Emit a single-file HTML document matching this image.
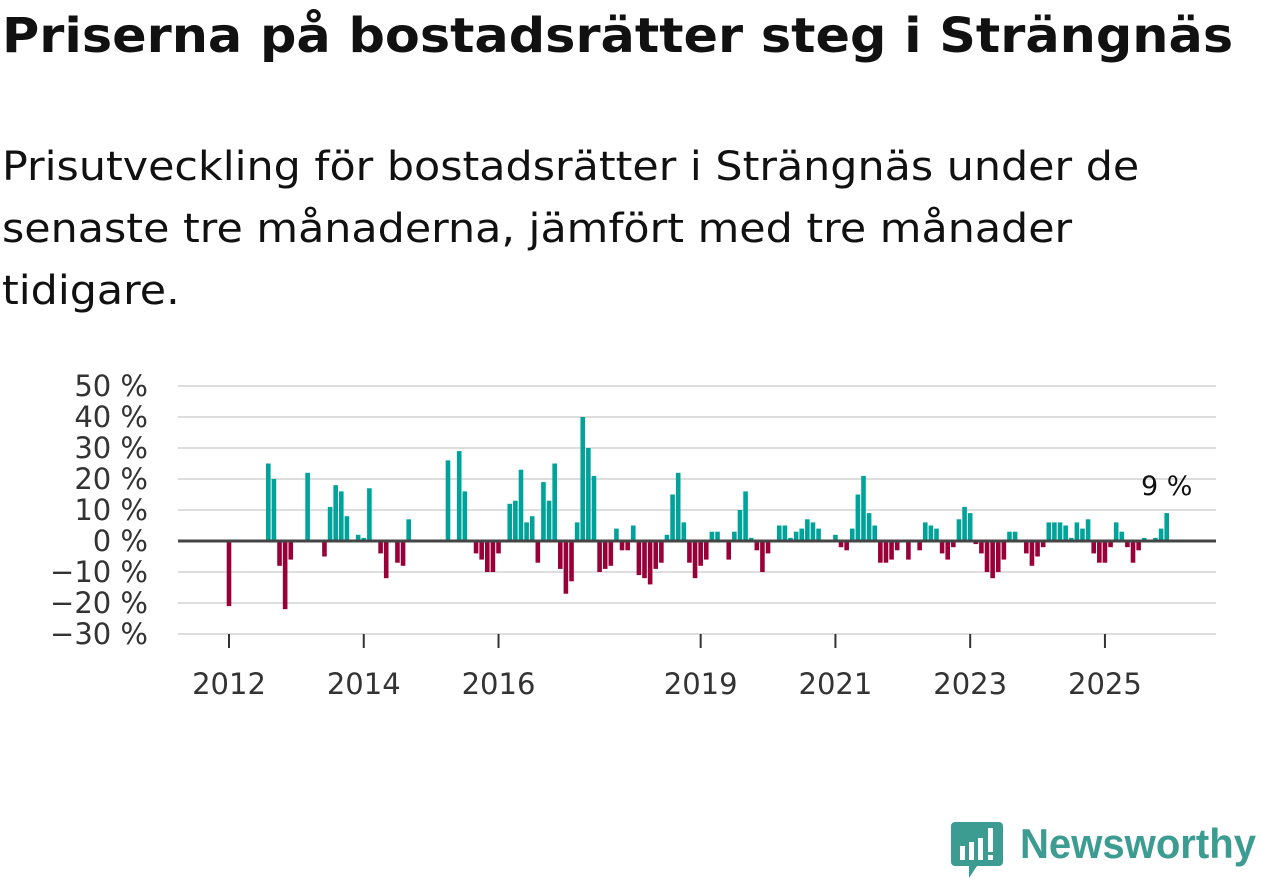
<!DOCTYPE html>
<html><head><meta charset="utf-8"><style>
body{margin:0;width:1262px;height:879px;background:#fff;font-family:"Liberation Sans","DejaVu Sans",sans-serif;color:#111;position:relative;overflow:hidden}
h1{position:absolute;left:2px;top:8px;margin:0;font-size:48px;font-weight:bold;white-space:nowrap;font-family:"DejaVu Sans","Liberation Sans",sans-serif;transform:scaleX(1.06);transform-origin:left}
#sub{position:absolute;left:2px;top:136px;margin:0;font-size:40px;line-height:62px;white-space:nowrap;font-family:"DejaVu Sans",sans-serif;transform:scaleX(1.07);transform-origin:left}
svg{position:absolute;left:0;top:0}
</style></head><body>
<h1>Priserna på bostadsrätter steg i Strängnäs</h1>
<p id="sub">Prisutveckling för bostadsrätter i Strängnäs under de<br>senaste tre månaderna, jämfört med tre månader<br>tidigare.</p>
<svg id="chart" width="1262" height="879"></svg>
<script>
const months=[0,7,8,9,10,11,14,17,18,19,20,21,23,24,25,27,28,30,31,32,39,41,42,44,45,46,47,48,50,51,52,53,54,55,56,57,58,59,60,61,62,63,64,65,66,67,68,69,70,71,72,73,74,75,76,77,78,79,80,81,82,83,84,85,86,87,89,90,91,92,93,94,95,96,98,99,100,101,102,103,104,105,108,109,110,111,112,113,114,115,116,117,118,119,121,123,124,125,126,127,128,129,130,131,132,133,134,135,136,137,138,139,140,142,143,144,145,146,147,148,149,150,151,152,153,154,155,156,157,158,159,160,161,162,163,165,166,167];
const values=[-21,25,20,-8,-22,-6,22,-5,11,18,16,8,2,1,17,-4,-12,-7,-8,7,26,29,16,-4,-6,-10,-10,-4,12,13,23,6,8,-7,19,13,25,-9,-17,-13,6,40,30,21,-10,-9,-8,4,-3,-3,5,-11,-12,-14,-9,-7,2,15,22,6,-7,-12,-8,-6,3,3,-6,3,10,16,1,-3,-10,-4,5,5,1,3,4,7,6,4,2,-2,-3,4,15,21,9,5,-7,-7,-6,-3,-6,-3,6,5,4,-4,-6,-2,7,11,9,-1,-4,-10,-12,-10,-6,3,3,-4,-8,-5,-2,6,6,6,5,1,6,4,7,-4,-7,-7,-2,6,3,-2,-7,-3,1,1,4,9];
const yTicks=[50,40,30,20,10,0,-10,-20,-30];
const xYears=[2012,2014,2016,2019,2021,2023,2025];
const lastLabel="9 %";
const svg=document.getElementById('chart');
const NS='http://www.w3.org/2000/svg';
const y=v=>541-v*3.1;
const x=m=>229+m*5.615;
function mk(t,a){const e=document.createElementNS(NS,t);for(const k in a)e.setAttribute(k,a[k]);svg.appendChild(e);return e;}
yTicks.forEach(t=>{
  const l=mk('line',{x1:178,x2:1216,y1:y(t),y2:y(t),stroke:'#ddd','stroke-width':2});
  
  
  const tx=mk('text',{x:148,y:y(t)+10,'text-anchor':'end','font-size':29,fill:'#333','font-family':'DejaVu Sans, sans-serif'});
  tx.textContent=(t<0?'−'+(-t):t)+' %';
  
  
});
xYears.forEach(yr=>{
  const px=x((yr-2012)*12);
  const tk=mk('line',{x1:px,x2:px,y1:634,y2:648,stroke:'#333','stroke-width':2});
  
  
  const tx=mk('text',{x:px,y:694,'text-anchor':'middle','font-size':29,fill:'#333','font-family':'DejaVu Sans, sans-serif'});
  tx.textContent=yr;
  
  
});
months.forEach((m,i)=>{
  const v=values[i];
  const r=mk('rect',{x:x(m)-2.3,width:4.6,y:Math.min(y(v),y(0)),height:Math.abs(y(v)-y(0)),fill:v>=0?'#00a39a':'#990038'});
  
  
});
const z=mk('line',{x1:178,x2:1216,y1:y(0),y2:y(0),stroke:'#444','stroke-width':3});


const lm=months[months.length-1];
const lv=values[values.length-1];
const lt=mk('text',{x:x(lm),y:y(lv)-18,'text-anchor':'middle','font-size':27,fill:'#111','font-family':'DejaVu Sans, sans-serif'});
lt.textContent=lastLabel;


</script>
<svg width="320" height="80" style="left:945px;top:810px">
<path d="M10 12 h44 a4 4 0 0 1 4 4 v36 a4 4 0 0 1 -4 4 h-22 l-8 12 v-12 h-14 a4 4 0 0 1 -4 -4 v-36 a4 4 0 0 1 4 -4z" fill="#3d9c91"/>
<rect x="15" y="36" width="5" height="14" fill="#fff"/><rect x="24" y="32" width="5" height="18" fill="#fff"/><rect x="33" y="28" width="5" height="22" fill="#fff"/><rect x="43" y="18" width="5" height="24" fill="#fff"/><rect x="43" y="45" width="5" height="5" fill="#fff"/>
<text x="75" y="48" font-size="42" font-family="Liberation Sans, sans-serif" fill="#3d9c91" font-weight="bold" textLength="236" lengthAdjust="spacingAndGlyphs">Newsworthy</text>
</svg>
</body></html>
